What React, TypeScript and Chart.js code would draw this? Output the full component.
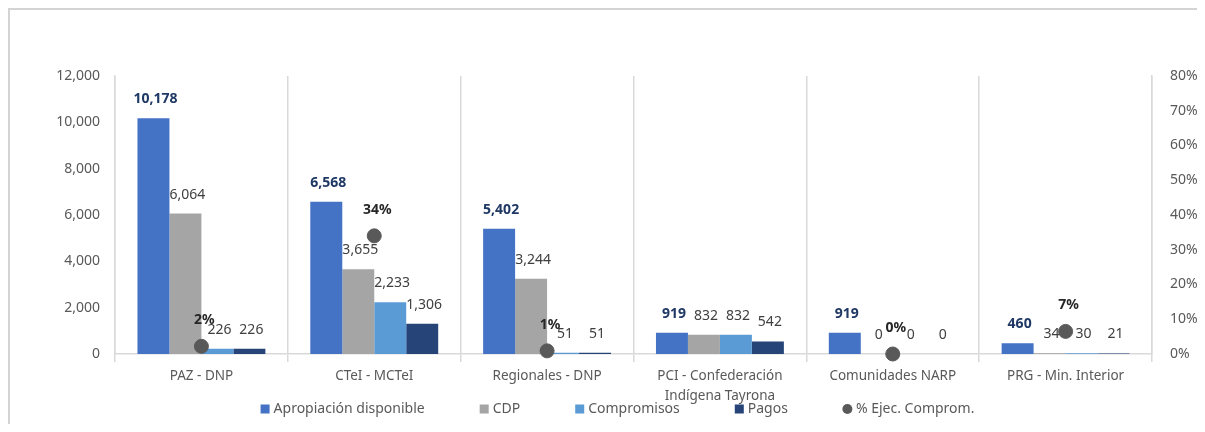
import React, { useEffect, useRef } from 'react';
import { Chart, registerables } from 'chart.js';

Chart.register(...registerables);

const categories: (string | string[])[] = [
  'PAZ - DNP',
  'CTeI - MCTeI',
  'Regionales - DNP',
  ['PCI - Confederación', 'Indígena Tayrona'],
  'Comunidades NARP',
  'PRG - Min. Interior',
];
const seriesNames = ['Apropiación disponible', 'CDP', 'Compromisos', 'Pagos', '% Ejec. Comprom.'];
const apropiacion = [10178, 6568, 5402, 919, 919, 460];
const cdp = [6064, 3655, 3244, 832, 0, 34];
const compromisos = [226, 2233, 51, 832, 0, 30];
const pagos = [226, 1306, 51, 542, 0, 21];
const pctEjec = [2.2, 34.0, 0.9, 90.5, 0, 6.5];
const leftAxisMax = 12000;
const leftAxisStep = 2000;
const rightAxisMax = 80;
const rightAxisStep = 10;

const FONT = "'Noto Sans', sans-serif";
const colors = ['#4472C4', '#A5A5A5', '#5B9BD5', '#264478', '#595959'];

const bgPlugin = {
  id: 'whiteBackground',
  beforeDraw(chart: any) {
    const ctx = chart.ctx;
    ctx.save();
    ctx.fillStyle = '#ffffff';
    ctx.fillRect(0, 0, chart.width, chart.height);
    ctx.strokeStyle = '#d4d4d4';
    ctx.lineWidth = 2;
    ctx.beginPath();
    ctx.moveTo(9, chart.height + 5);
    ctx.lineTo(9, 9);
    ctx.lineTo(chart.width + 5, 9);
    ctx.stroke();
    ctx.restore();
  },
};

const dataLabelPlugin = {
  id: 'dataLabels',
  afterDatasetsDraw(chart: any) {
    const ctx = chart.ctx;
    ctx.save();
    ctx.textAlign = 'center';
    ctx.textBaseline = 'middle';
    chart.data.datasets.forEach((ds: any, di: number) => {
      const meta = chart.getDatasetMeta(di);
      meta.data.forEach((el: any, i: number) => {
        const v = ds.data[i];
        if (ds.type === 'line') {
          if (v > rightAxisMax) return;
          ctx.font = `bold 14px ${FONT}`;
          ctx.fillStyle = '#262626';
          ctx.fillText(Math.round(v) + '%', el.x + 3, el.y - 26);
        } else {
          if (di === 0) {
            ctx.font = `bold 14px ${FONT}`;
            ctx.fillStyle = '#1F3864';
          } else {
            ctx.font = `14px ${FONT}`;
            ctx.fillStyle = '#404040';
          }
          ctx.fillText(v.toLocaleString('en-US'), el.x + 2, el.y - 19);
        }
      });
    });
    ctx.restore();
  },
};

const legendPlugin = {
  id: 'customLegend',
  afterDraw(chart: any) {
    const ctx = chart.ctx;
    ctx.save();
    ctx.font = `14px ${FONT}`;
    ctx.textBaseline = 'middle';
    ctx.textAlign = 'left';
    const box = 9;
    const gapText = 4;
    const gapItem = 55;
    const items = chart.data.datasets.map((ds: any, i: number) => ({
      text: ds.label,
      color: colors[i],
      circle: ds.type === 'line',
      w: box + gapText + ctx.measureText(ds.label).width,
    }));
    const total = items.reduce((a: number, it: any) => a + it.w, 0) + gapItem * (items.length - 1);
    let x = chart.width / 2 + 15 - total / 2;
    const y = 409;
    items.forEach((it: any) => {
      ctx.fillStyle = it.color;
      if (it.circle) {
        ctx.beginPath();
        ctx.arc(x + box / 2, y, 5, 0, Math.PI * 2);
        ctx.fill();
      } else {
        ctx.fillRect(x, y - box / 2, box, box);
      }
      ctx.fillStyle = '#595959';
      ctx.fillText(it.text, x + box + gapText, y);
      x += it.w + gapItem;
    });
    ctx.restore();
  },
};

export default function App() {
  const ref = useRef<HTMLCanvasElement>(null);
  useEffect(() => {
    if (!ref.current) return;
    const barSeries = [apropiacion, cdp, compromisos, pagos];
    const chart = new Chart(ref.current, {
      type: 'bar',
      data: {
        labels: categories as any,
        datasets: [
          ...barSeries.map((d, i) => ({
            type: 'bar' as const,
            label: seriesNames[i],
            data: d,
            backgroundColor: colors[i],
            yAxisID: 'y',
            categoryPercentage: 0.74,
            barPercentage: 1.0,
            order: 1,
          })),
          {
            type: 'line' as const,
            label: seriesNames[4],
            data: pctEjec,
            yAxisID: 'y1',
            showLine: false,
            pointRadius: 7,
            pointHoverRadius: 7,
            pointBackgroundColor: colors[4],
            pointBorderColor: colors[4],
            backgroundColor: colors[4],
            borderColor: colors[4],
            order: -1,
            clip: { left: 20, right: 20, top: 0, bottom: 20 } as any,
          },
        ],
      },
      options: {
        animation: false,
        responsive: false,
        layout: { padding: { top: 76, left: 0, right: 0, bottom: 0 } },
        font: { family: FONT, size: 14 },
        plugins: {
          tooltip: { enabled: false },
          legend: { display: false },
        },
        scales: {
          x: {
            afterFit: (s: any) => {
              s.height = 78;
            },
            grid: {
              offset: true,
              color: '#d9d9d9',
              lineWidth: 1.5,
              tickLength: 8,
              drawOnChartArea: true,
            },
            border: { display: true, color: '#d9d9d9', width: 1.5 },
            ticks: {
              color: '#595959',
              font: { family: FONT, size: 13.5, lineHeight: 1.5 },
              padding: 4,
              maxRotation: 0,
              autoSkip: false,
            },
          },
          y: {
            position: 'left',
            min: 0,
            max: leftAxisMax,
            afterFit: (s: any) => {
              s.width = 115;
            },
            grid: { display: false, drawTicks: false },
            border: { display: true, color: '#d9d9d9', width: 1.5 },
            ticks: {
              stepSize: leftAxisStep,
              color: '#595959',
              font: { family: FONT, size: 14 },
              padding: 15,
              callback: (v: any) => Number(v).toLocaleString('en-US'),
            },
          },
          y1: {
            position: 'right',
            min: 0,
            max: rightAxisMax,
            afterFit: (s: any) => {
              s.width = 53;
            },
            grid: { display: false, drawTicks: false },
            border: { display: true, color: '#d9d9d9', width: 1.5 },
            ticks: {
              stepSize: rightAxisStep,
              color: '#595959',
              font: { family: FONT, size: 14 },
              padding: 18,
              callback: (v: any) => v + '%',
            },
          },
        },
      } as any,
      plugins: [bgPlugin, dataLabelPlugin, legendPlugin],
    });
    return () => chart.destroy();
  }, []);

  return (
    <div
      style={{
        position: 'relative',
        width: 1205,
        height: 432,
        margin: -8,
        overflow: 'hidden',
      }}
    >
      <canvas
        ref={ref}
        width={1205}
        height={432}
        style={{ position: 'absolute', left: 0, top: 0, display: 'block' }}
      />
    </div>
  );
}
